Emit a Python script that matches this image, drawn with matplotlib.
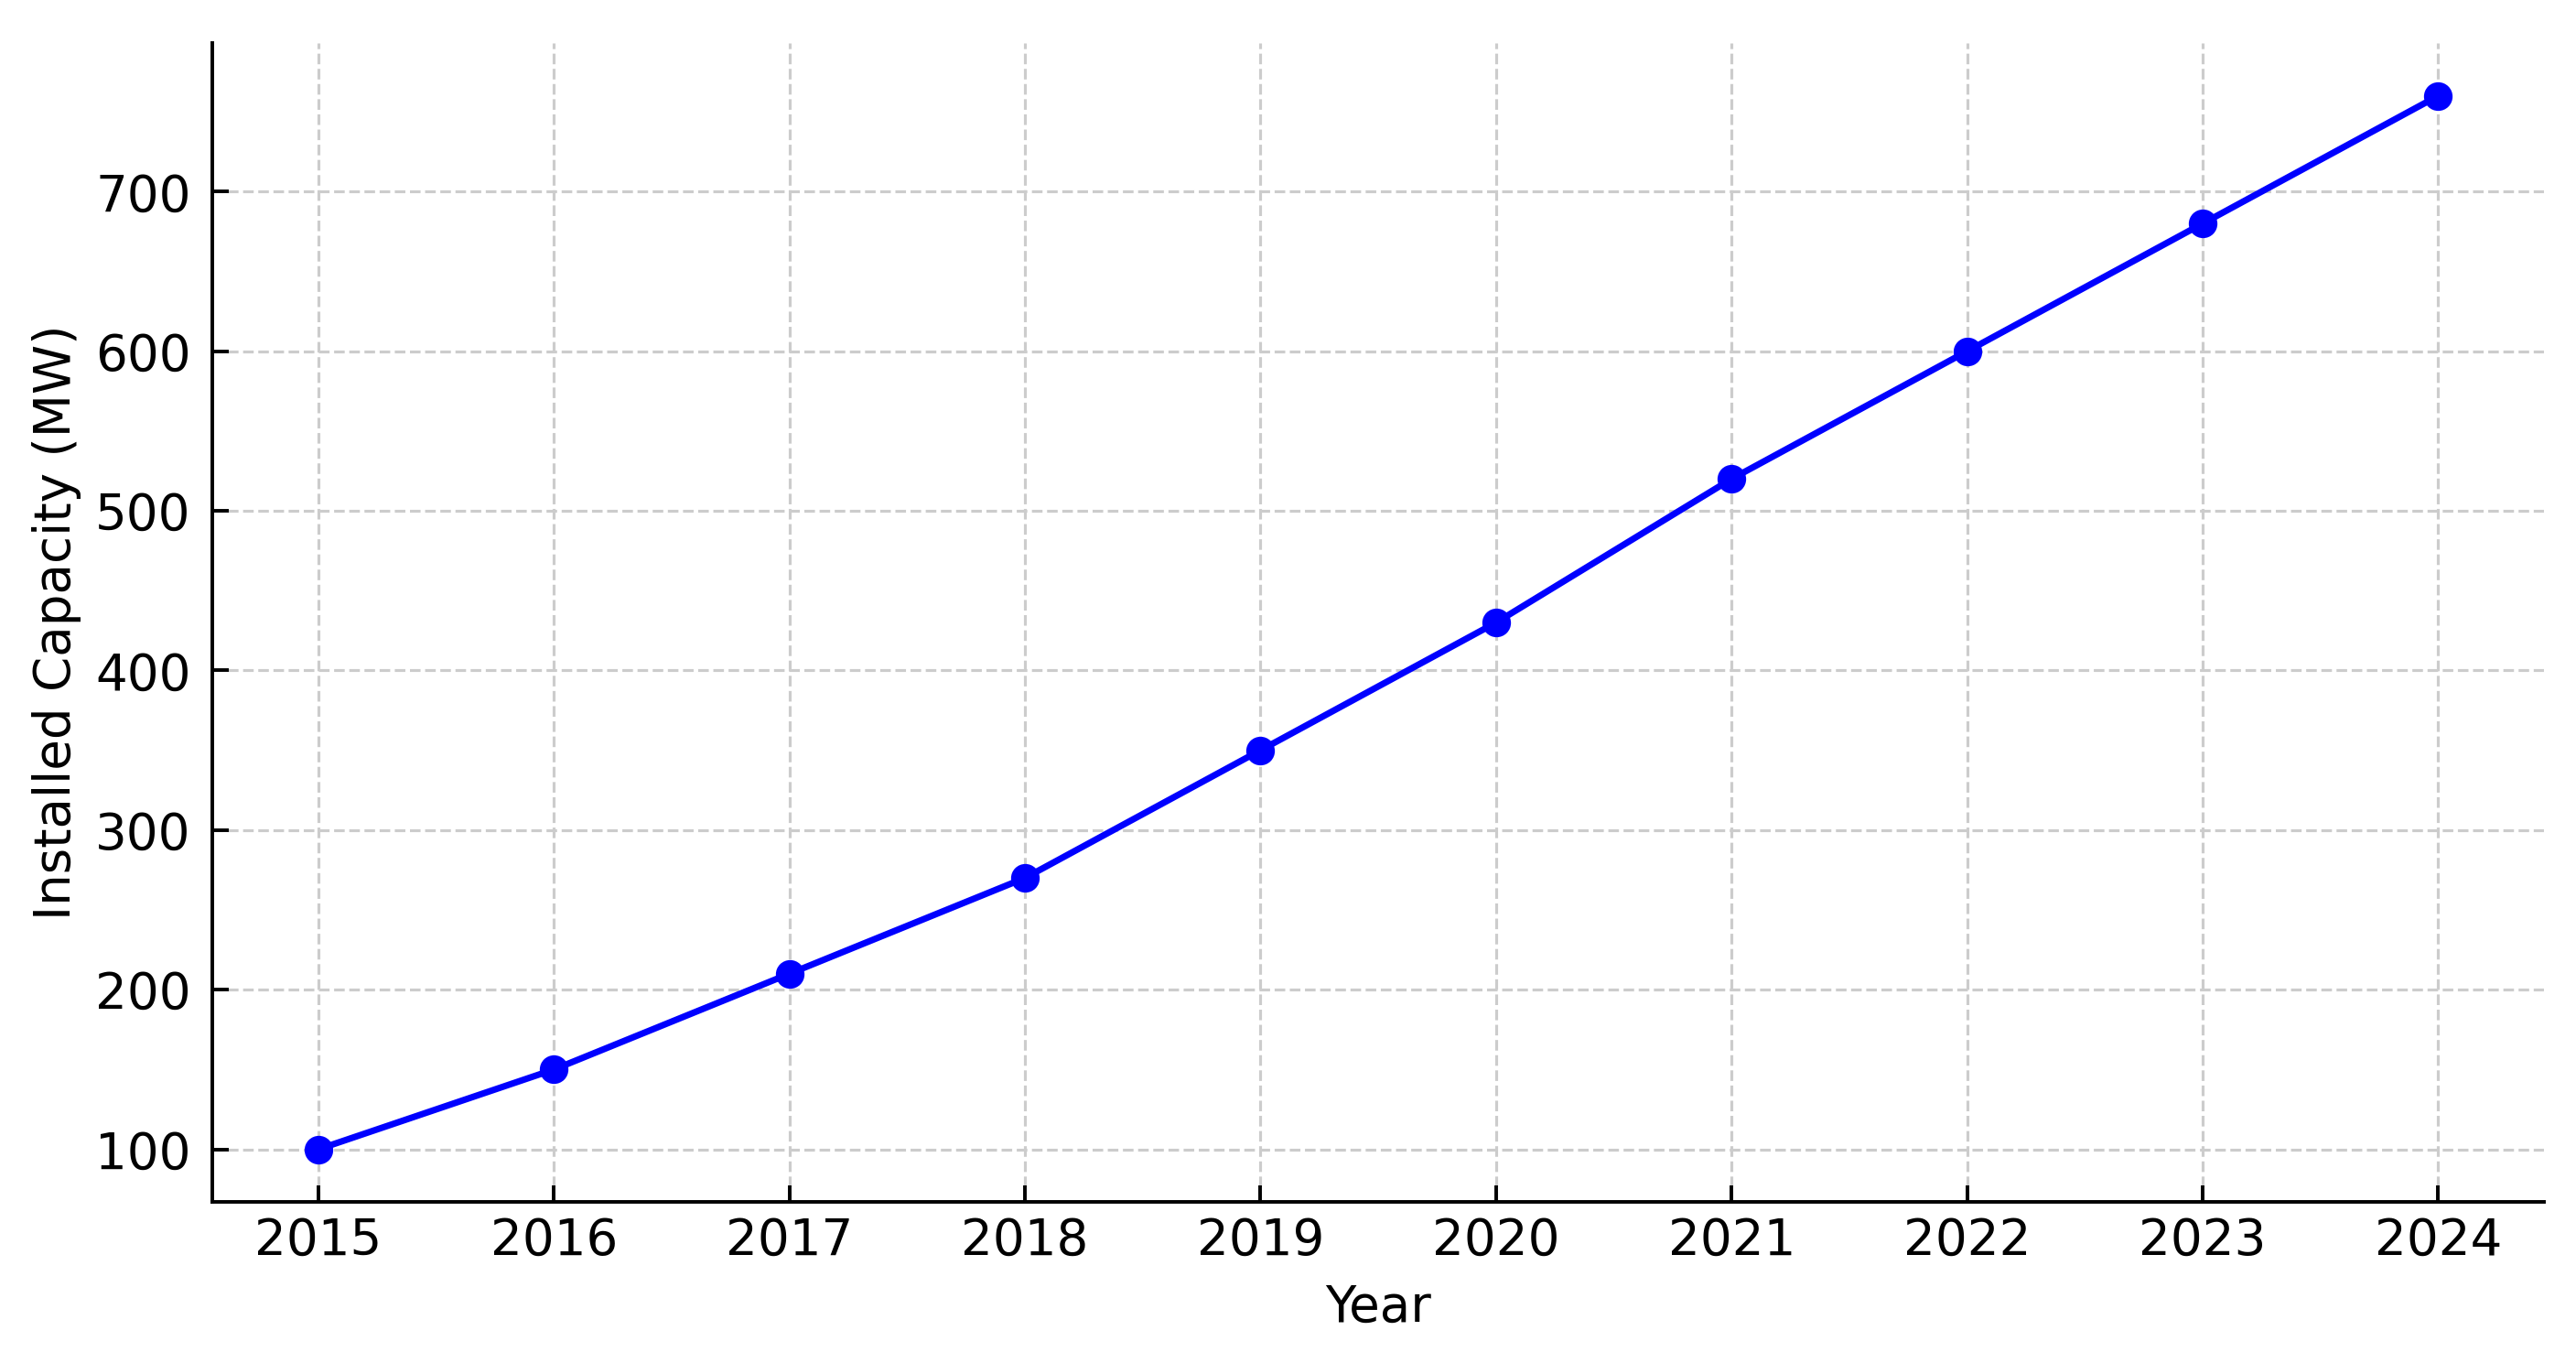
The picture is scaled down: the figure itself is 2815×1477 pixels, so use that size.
import matplotlib
matplotlib.use("Agg")
import matplotlib.pyplot as plt

# Data
years = [2015, 2016, 2017, 2018, 2019, 2020, 2021, 2022, 2023, 2024]
capacity_mw = [100, 150, 210, 270, 350, 430, 520, 600, 680, 760]

label_x = 'Year'
label_y = 'Installed Capacity (MW)'

plt.rcParams['font.family'] = 'DejaVu Sans'
plt.rcParams['font.size'] = 14

# Open figure
fig = plt.figure(figsize=(10, 5.247), dpi=281.5)
ax = fig.add_subplot(111)
fig.subplots_adjust(left=0.0825, right=0.9876, bottom=0.111, top=0.968)

ax.plot(years, capacity_mw, color='#0000FF', linestyle='-', lw=1.8, marker='o', ms=7)

ax.set_xticks(years)
ax.set_xticklabels([str(y) for y in years])
ax.set_xlabel(label_x, fontsize=14, labelpad=5)
ax.set_ylabel(label_y, fontsize=14)

ax.grid(True, linestyle='--', color='#cccccc', lw=0.8)
ax.set_axisbelow(True)

for side in ['top', 'right']:
    ax.spines[side].set_visible(False)
for side in ['left', 'bottom']:
    ax.spines[side].set_linewidth(1.0)
ax.tick_params(direction='in', length=4.5, width=1.0, labelsize=14)
ax.tick_params(axis='x', pad=4)
ax.tick_params(axis='y', pad=6)

fig.savefig('out.png', dpi=281.5)
plt.close()
